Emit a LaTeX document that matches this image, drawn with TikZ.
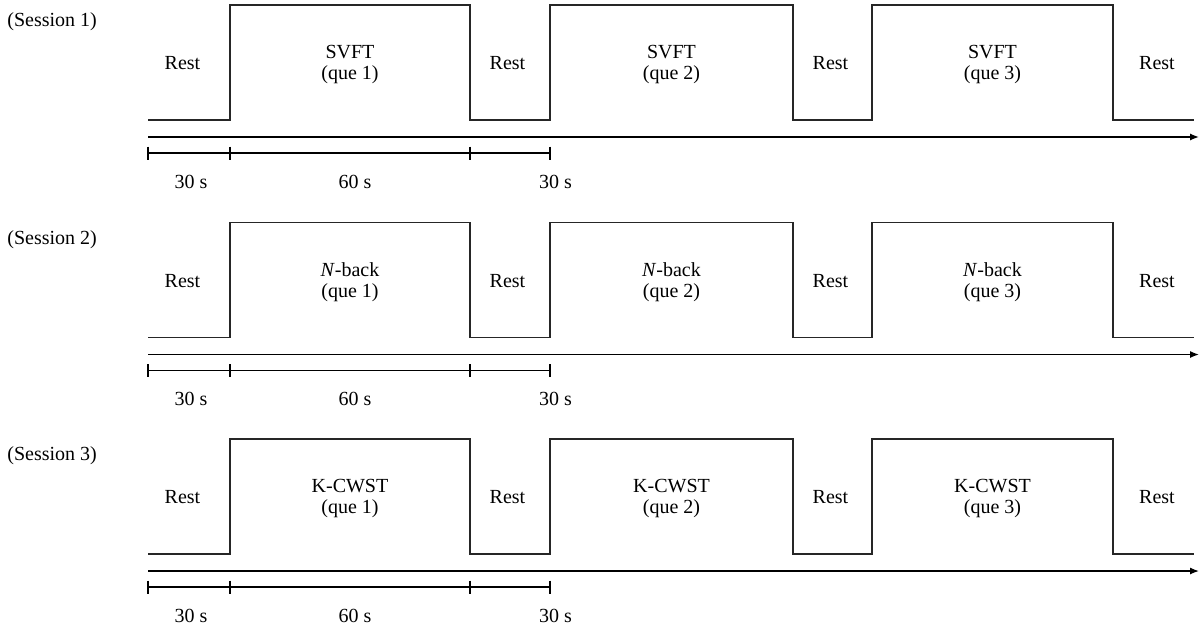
\documentclass[tikz,border=0pt]{standalone}
\usepackage{fontspec}
\setmainfont{Liberation Serif}
\usepackage{tikz}
\usetikzlibrary{
  arrows.meta,
  positioning,
  calc
}

\begin{document}
\begin{tikzpicture}[
  x=0.5pt, y=-0.5pt,
  wave/.style={line width=0.65pt, black!85},
  timeaxis/.style={line width=0.65pt, -{Latex[length=4.5pt,width=3.5pt]}},
  span/.style={line width=0.6pt},
  tick/.style={line width=0.6pt},
  lbl/.style={font=\fontsize{10}{10.5}\selectfont, inner sep=0pt},
  task/.style={lbl, align=center}
]
  \useasboundingbox (0,0) rectangle (1203,631);

  \foreach \s/\dy/\name in {1/0/SVFT, 2/217.5/{\textit{N}-back}, 3/434/K-CWST} {
    \begin{scope}[shift={(0,\dy)}]
      \node[lbl, anchor=base west] (sess\s) at (7,26.5) {(Session \s)};

      % block signal
      \draw[wave] (148,120) -- (230,120) -- (230,5) -- (470,5) -- (470,120)
        -- (550,120) -- (550,5) -- (793,5) -- (793,120) -- (872,120)
        -- (872,5) -- (1113,5) -- (1113,120) -- (1194,120);

      \node[lbl, anchor=base] (resta\s) at (182.5,69.5) {Rest};
      \node[lbl, anchor=base] (restb\s) at (507.5,69.5) {Rest};
      \node[lbl, anchor=base] (restc\s) at (830.5,69.5) {Rest};
      \node[lbl, anchor=base] (restd\s) at (1157,69.5) {Rest};

      \node[task] (quea\s) at (350,64.5) {\name\\(que 1)};
      \node[task] (queb\s) at (671.5,64.5) {\name\\(que 2)};
      \node[task] (quec\s) at (992.5,64.5) {\name\\(que 3)};

      % time axis
      \coordinate (start\s) at (148,137);
      \coordinate (end\s) at (1199,137);
      \draw[timeaxis] (start\s) -- (end\s);

      % durations
      \coordinate (ta\s) at (148,153);
      \coordinate (tb\s) at (230,153);
      \coordinate (tc\s) at (470,153);
      \coordinate (td\s) at (550,153);
      \draw[span] (ta\s) -- (td\s);
      \foreach \t in {ta,tb,tc,td}
        \draw[tick] ($(\t\s)+(0,-6.5)$) -- ($(\t\s)+(0,6.5)$);

      \node[lbl, anchor=base] (dura\s) at (191,188) {30 s};
      \node[lbl, anchor=base] (durb\s) at (355,188) {60 s};
      \node[lbl, anchor=base] (durc\s) at (555.5,188) {30 s};
    \end{scope}
  }
\end{tikzpicture}
\end{document}
